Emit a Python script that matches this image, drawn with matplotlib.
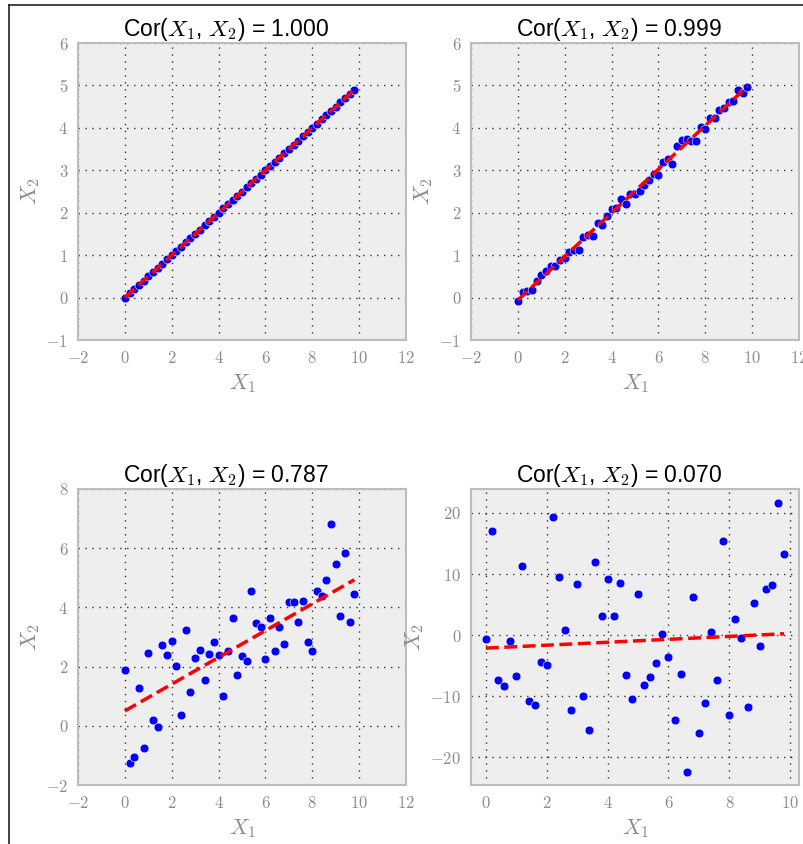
import numpy as np
import matplotlib
matplotlib.use("Agg")
import matplotlib.pyplot as plt
from matplotlib.lines import Line2D
from matplotlib.ticker import FuncFormatter

plt.rcParams['mathtext.fontset'] = 'cm'
plt.rcParams['font.family'] = ['Liberation Sans', 'DejaVu Sans']

# x values shared by all four panels
x = [0.0, 0.2, 0.4, 0.6, 0.8, 1.0, 1.2, 1.4, 1.6, 1.8,
     2.0, 2.2, 2.4, 2.6, 2.8, 3.0, 3.2, 3.4, 3.6, 3.8,
     4.0, 4.2, 4.4, 4.6, 4.8, 5.0, 5.2, 5.4, 5.6, 5.8,
     6.0, 6.2, 6.4, 6.6, 6.8, 7.0, 7.2, 7.4, 7.6, 7.8,
     8.0, 8.2, 8.4, 8.6, 8.8, 9.0, 9.2, 9.4, 9.6, 9.8]

y_perfect = [0.0, 0.1, 0.2, 0.3, 0.4, 0.5, 0.6, 0.7, 0.8, 0.9,
             1.0, 1.1, 1.2, 1.3, 1.4, 1.5, 1.6, 1.7, 1.8, 1.9,
             2.0, 2.1, 2.2, 2.3, 2.4, 2.5, 2.6, 2.7, 2.8, 2.9,
             3.0, 3.1, 3.2, 3.3, 3.4, 3.5, 3.6, 3.7, 3.8, 3.9,
             4.0, 4.1, 4.2, 4.3, 4.4, 4.5, 4.6, 4.7, 4.8, 4.9]

y_high = [-0.09, 0.13, 0.15, 0.19, 0.40, 0.54, 0.62, 0.74, 0.74, 0.88,
          0.94, 1.07, 1.13, 1.13, 1.43, 1.47, 1.45, 1.76, 1.72, 1.93,
          2.08, 2.12, 2.32, 2.20, 2.45, 2.43, 2.51, 2.65, 2.78, 2.92,
          2.88, 3.20, 3.27, 3.15, 3.57, 3.71, 3.74, 3.69, 3.70, 4.02,
          3.97, 4.24, 4.24, 4.42, 4.46, 4.60, 4.64, 4.89, 4.83, 4.97]

y_mid = [1.89, -1.25, -1.07, 1.28, -0.76, 2.46, 0.20, -0.03, 2.74, 2.38,
         2.88, 2.01, 0.35, 3.22, 1.15, 2.30, 2.56, 1.56, 2.43, 2.83,
         2.39, 1.01, 2.52, 3.64, 1.72, 2.36, 2.18, 4.56, 3.48, 3.33,
         2.24, 3.65, 2.54, 3.34, 2.78, 4.19, 4.19, 3.51, 4.20, 2.82,
         2.52, 4.55, 4.39, 4.94, 6.81, 5.45, 3.71, 5.83, 3.51, 4.46]

y_low = [-0.7, 17.1, -7.4, -8.3, -1.0, -6.7, 11.3, -10.8, -11.5, -4.4,
         -4.9, 19.3, 9.5, 0.9, -12.2, 8.4, -10.0, -15.5, 11.9, 3.1,
         9.2, 3.1, 8.6, -6.5, -10.4, 6.8, -8.1, -6.9, -4.6, 0.2,
         -3.6, -13.8, -6.4, -22.3, 6.2, -16.0, -11.1, 0.5, -7.4, 15.4,
         -13.0, 2.7, -0.4, -11.7, 5.2, -1.7, 7.6, 8.2, 21.6, 13.3]

cor_labels = ['1.000', '0.999', '0.787', '0.070']

panels = [
    (y_perfect, (-2, 12), (-1, 6), np.arange(-2, 13, 2), np.arange(-1, 7, 1)),
    (y_high, (-2, 12), (-1, 6), np.arange(-2, 13, 2), np.arange(-1, 7, 1)),
    (y_mid, (-2, 12), (-2, 8), np.arange(-2, 13, 2), np.arange(-2, 9, 2)),
    (y_low, (-0.49, 10.29), (-24.5, 23.9), np.arange(0, 11, 2), np.arange(-20, 21, 10)),
]

W, H = 804, 844
fig = plt.figure(figsize=(W / 100, H / 100), dpi=100)
fig.patch.set_facecolor('white')

# axes boxes in pixels: left, top, width, height
boxes = [(78, 43, 328, 297), (471, 43, 328, 297),
         (78, 489, 328, 296), (471, 489, 328, 296)]

grey = '#8c8c8c'
fmt = FuncFormatter(lambda v, p: r'$%g$' % v)

for (yv, xl, yl, xt, yt), (l, t, w, h), cl in zip(panels, boxes, cor_labels):
    ax = fig.add_axes([l / W, 1 - (t + h) / H, w / W, h / H])
    ax.set_facecolor('#eeeeee')
    for s in ax.spines.values():
        s.set_color('#bcbcbc')
        s.set_linewidth(1.5)
    ax.scatter(x, yv, s=40, color='#0000ff', edgecolors='white', linewidths=0.4, zorder=3)
    k, b = np.polyfit(x, yv, 1)
    xs = np.array([x[0], x[-1]])
    ax.plot(xs, k * xs + b, '--', color='#ff0000', lw=2.5, zorder=4)
    ax.set_xlim(xl)
    ax.set_ylim(yl)
    ax.set_xticks(xt)
    ax.set_yticks(yt)
    ax.xaxis.set_major_formatter(fmt)
    ax.yaxis.set_major_formatter(fmt)
    ax.grid(True, color='#333333', linestyle=(0, (1, 4)), linewidth=1.0)
    ax.set_axisbelow(True)
    ax.tick_params(length=0, labelsize=12, labelcolor=grey, pad=7)
    ax.set_xlabel(r'$X_1$', fontsize=16, color=grey, labelpad=5)
    ax.set_ylabel(r'$X_2$', fontsize=16, color=grey, labelpad=3)
    ax.set_title(r'Cor($X_1$, $X_2$) = ' + cl, fontsize=16.5, color='black', pad=5, x=0.45)

# notebook-style frame lines on top and left
fig.add_artist(Line2D([8.5 / W, 1], [1 - 5 / H, 1 - 5 / H], color='#222222', lw=1.2, transform=fig.transFigure))
fig.add_artist(Line2D([8.5 / W, 8.5 / W], [0, 1 - 5 / H], color='#222222', lw=1.2, transform=fig.transFigure))

fig.savefig('out.png', dpi=100)
